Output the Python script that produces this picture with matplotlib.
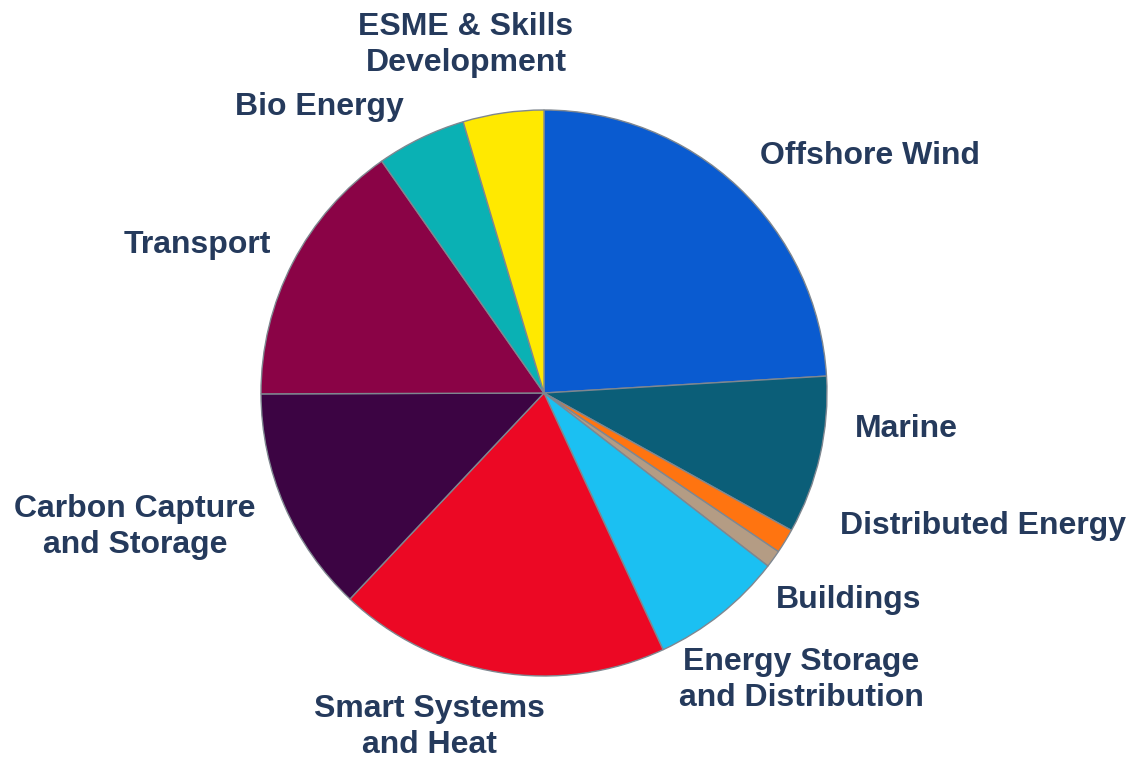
import matplotlib.pyplot as plt

categories = ['Offshore Wind', 'Marine', 'Distributed Energy', 'Buildings',
              'Energy Storage\nand Distribution', 'Smart Systems\nand Heat',
              'Carbon Capture\nand Storage', 'Transport', 'Bio Energy',
              'ESME & Skills\nDevelopment']
shares = [24.0, 9.0, 1.4, 1.0, 7.6, 18.9, 12.9, 15.3, 5.1, 4.6]
colors = ['#0A5BD0', '#0B5E78', '#FF7410', '#B49C84', '#1BC0F2',
          '#EC0824', '#3C0443', '#8A0346', '#0AB1B4', '#FFE900']

# label centres relative to pie (radius 1)
label_pos = [(1.152, 0.837), (1.279, -0.127), (1.550, -0.470), (1.078, -0.731),
             (0.908, -1.014), (-0.406, -1.180), (-1.445, -0.473),
             (-1.226, 0.523), (-0.795, 1.011), (-0.276, 1.230)]

W, H = 1136, 762
cx, cy, r = 544, 393, 283

plt.rcParams['font.family'] = ['Liberation Sans', 'DejaVu Sans']
fig = plt.figure(figsize=(W / 100, H / 100), dpi=100)
ax = fig.add_axes([0, 0, 1, 1])

wedges, _ = ax.pie(shares, colors=colors, startangle=90, counterclock=False,
                   radius=1, wedgeprops=dict(edgecolor='#7f8790', linewidth=1.0))

for name, (x, y) in zip(categories, label_pos):
    ax.text(x, y, name, ha='center', va='center', fontsize=23, fontweight='bold',
            color='#253A5C', linespacing=1.25)

ax.set_xlim(-cx / r, (W - cx) / r)
ax.set_ylim(-(H - cy) / r, cy / r)
ax.axis('off')

fig.savefig('out.png', dpi=100, facecolor='white')
